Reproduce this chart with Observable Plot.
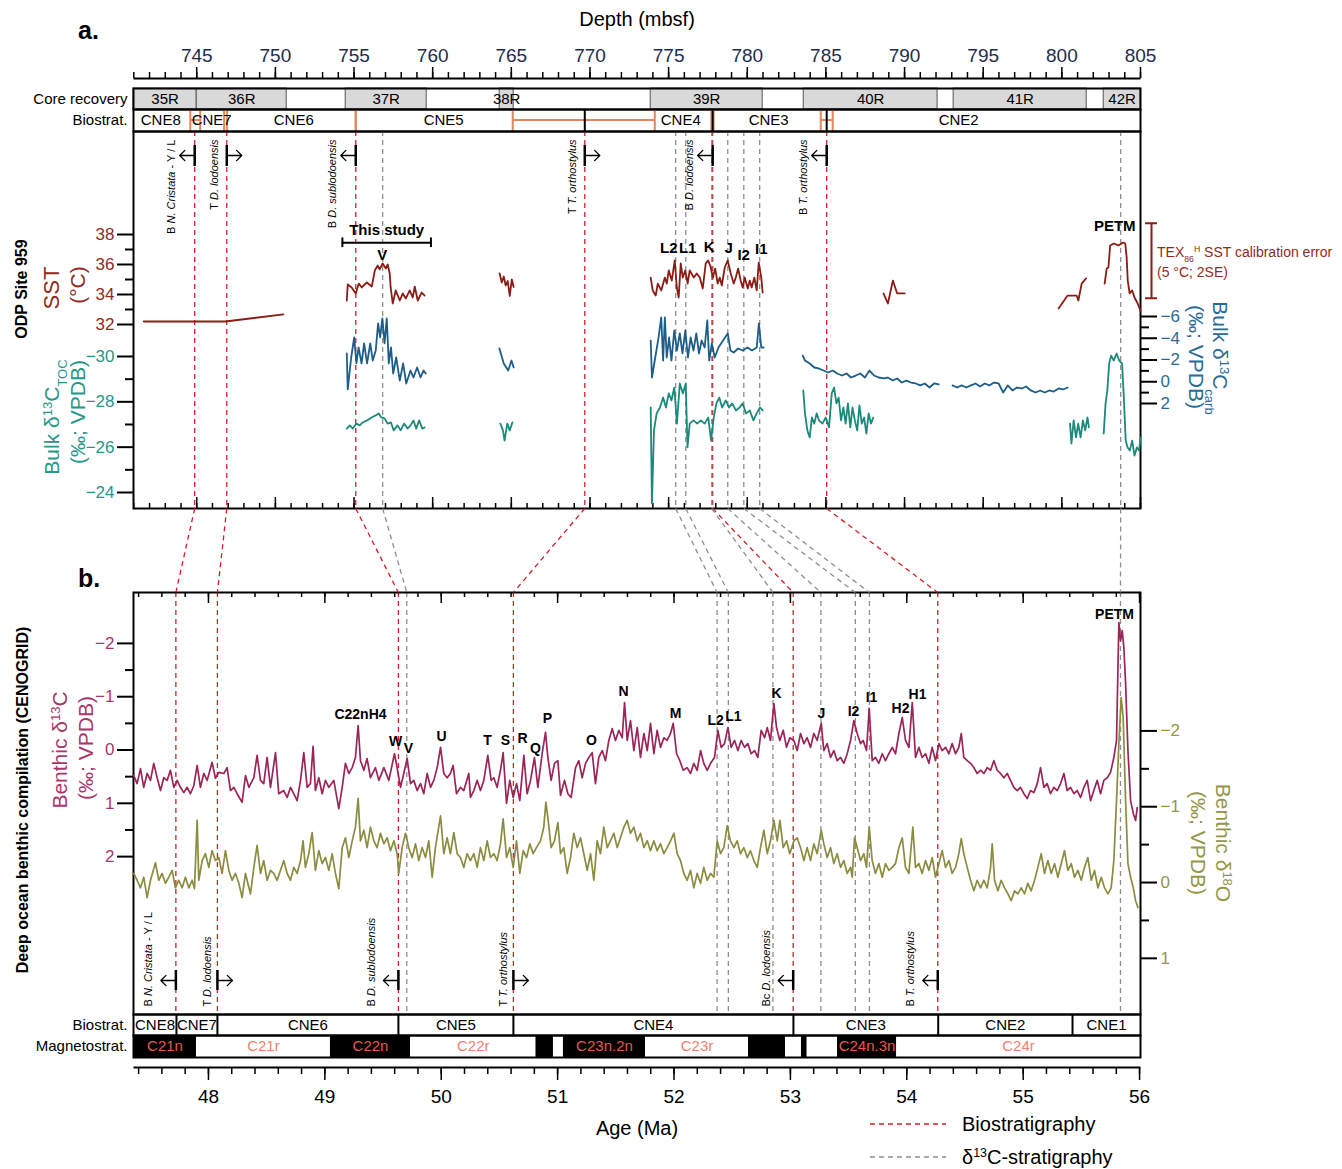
<!DOCTYPE html>
<html><head><meta charset="utf-8">
<script src="https://cdn.jsdelivr.net/npm/d3@7"></script>
<script src="https://cdn.jsdelivr.net/npm/@observablehq/plot@0.6"></script>
<style>
body{margin:0;background:#fff;}
#fig{position:relative;width:1342px;height:1169px;background:#fff;overflow:hidden;}
</style></head><body><div id="fig"></div>
<script>
// ---------------- DATA ----------------
// axis ticks
const depthTicks = [745,750,755,760,765,770,775,780,785,790,795,800,805];
const depthMinor = d3.range(741, 806, 1);
const ageTicks = [48,49,50,51,52,53,54,55,56];
const ageMinor = d3.range(47.4, 56.01, 0.2);
const sstTicks = [32,34,36,38], sstMinor = [33,35,37];
const tocTicks = [-30,-28,-26,-24], tocMinor = [-29,-27,-25];
const carbTicks = [-6,-4,-2,0,2], carbMinor = [-5,-3,-1,1];
const b13Ticks = [-2,-1,0,1,2], b13Minor = [-1.5,-0.5,0.5,1.5];
const b18Ticks = [-2,-1,0,1], b18Minor = [-1.5,-0.5,0.5];

// Core recovery, ODP Site 959 (mbsf)
const cores = [
 {name:"35R", top:740.98, bottom:745.0},
 {name:"36R", top:745.0, bottom:750.72},
 {name:"37R", top:754.47, bottom:759.62},
 {name:"38R", top:764.26, bottom:765.15},
 {name:"39R", top:773.86, bottom:780.98},
 {name:"40R", top:783.59, bottom:792.1},
 {name:"41R", top:793.12, bottom:801.58},
 {name:"42R", top:802.66, bottom:805.0}
];
// Nannofossil zones at Site 959
const zoneLabelsA = [
 {name:"CNE8", depth:742.71},{name:"CNE7", depth:745.95},{name:"CNE6", depth:751.17},
 {name:"CNE5", depth:760.7},{name:"CNE4", depth:775.77},{name:"CNE3", depth:781.36},{name:"CNE2", depth:793.44}
];
const zoneBoundsA = [
 {depth:744.87, lo:744.59, hi:745.22, solid:false},
 {depth:746.85, lo:746.74, hi:746.93, solid:false},
 {depth:755.11, lo:755.11, hi:755.11, solid:false},
 {depth:769.67, lo:765.09, hi:774.12, solid:true},
 {depth:777.8, lo:777.72, hi:777.86, solid:true},
 {depth:785.05, lo:784.67, hi:785.43, solid:true}
];
// Zones in the CENOGRID age model (Ma)
const zonesB = [
 {name:"CNE8", start:47.356, end:47.725},{name:"CNE7", start:47.725, end:48.077},
 {name:"CNE6", start:48.077, end:49.632},{name:"CNE5", start:49.632, end:50.62},
 {name:"CNE4", start:50.62, end:53.026},{name:"CNE3", start:53.026, end:54.27},
 {name:"CNE2", start:54.27, end:55.424},{name:"CNE1", start:55.424, end:56.008}
];
const chrons = [
 {name:"C21n", start:47.356, end:47.897, normal:true},
 {name:"C21r", start:47.897, end:49.048, normal:false},
 {name:"C22n", start:49.048, end:49.736, normal:true},
 {name:"C22r", start:49.736, end:50.814, normal:false},
 {name:"", start:50.814, end:50.964, normal:true},
 {name:"", start:50.964, end:51.05, normal:false},
 {name:"C23n.2n", start:51.05, end:51.755, normal:true},
 {name:"C23r", start:51.755, end:52.64, normal:false},
 {name:"", start:52.64, end:52.958, normal:true},
 {name:"", start:52.958, end:53.095, normal:false},
 {name:"", start:53.095, end:53.143, normal:true},
 {name:"", start:53.143, end:53.405, normal:false},
 {name:"C24n.3n", start:53.405, end:53.912, normal:true},
 {name:"C24r", start:53.912, end:56.008, normal:false}
];
// Tie points depth <-> age
const bioTies = [
 {depth:744.87, age:47.72},{depth:746.91, age:48.077},{depth:755.11, age:49.632},
 {depth:769.67, age:50.62},{depth:777.8, age:53.024},{depth:785.05, age:54.266}
];
const chemoTies = [
 {name:"V", depth:756.82, age:49.704},{name:"L2", depth:775.45, age:52.37},
 {name:"L1", depth:776.09, age:52.467},{name:"K", depth:777.74, age:52.85},
 {name:"J", depth:778.76, age:53.262},{name:"I2", depth:779.78, age:53.558},
 {name:"I1", depth:780.79, age:53.679},{name:"PETM", depth:803.74, age:55.836}
];
// Biostratigraphic datums
const datumsA = [
 {depth:744.87, rank:"B", taxon:"N. Cristata", note:" - Y / L", dir:-1},
 {depth:746.91, rank:"T", taxon:"D. lodoensis", note:"", dir:1},
 {depth:755.11, rank:"B", taxon:"D. sublodoensis", note:"", dir:-1},
 {depth:769.67, rank:"T", taxon:"T. orthostylus", note:"", dir:1},
 {depth:777.8, rank:"B", taxon:"D. lodoensis", note:"", dir:-1},
 {depth:785.05, rank:"B", taxon:"T. orthostylus", note:"", dir:-1}
];
const datumsB = [
 {age:47.72, rank:"B", taxon:"N. Cristata", note:" - Y / L", dir:-1},
 {age:48.077, rank:"T", taxon:"D. lodoensis", note:"", dir:1},
 {age:49.632, rank:"B", taxon:"D. sublodoensis", note:"", dir:-1},
 {age:50.62, rank:"T", taxon:"T. orthostylus", note:"", dir:1},
 {age:53.024, rank:"Bc", taxon:"D. lodoensis", note:"", dir:-1},
 {age:54.266, rank:"B", taxon:"T. orthostylus", note:"", dir:-1}
];
// Event labels
const eventsA = [
 {label:"V", depth:756.8, sst:36.6},{label:"L2", depth:775.01, sst:37.07},
 {label:"L1", depth:776.21, sst:37.07},{label:"K", depth:777.58, sst:37.13},
 {label:"J", depth:778.82, sst:37.07},{label:"I2", depth:779.77, sst:36.6},
 {label:"I1", depth:780.89, sst:37.0},{label:"PETM", depth:803.36, sst:38.53}
];
const eventsB = [
 {label:"C22nH4", age:49.306, d13c:-0.67},{label:"W", age:49.607, d13c:-0.15},
 {label:"V", age:49.718, d13c:-0.03},{label:"U", age:50.002, d13c:-0.25},
 {label:"T", age:50.397, d13c:-0.18},{label:"S", age:50.552, d13c:-0.18},
 {label:"R", age:50.698, d13c:-0.22},{label:"Q", age:50.81, d13c:-0.03},
 {label:"P", age:50.913, d13c:-0.59},{label:"O", age:51.291, d13c:-0.18},
 {label:"N", age:51.566, d13c:-1.10},{label:"M", age:52.013, d13c:-0.68},
 {label:"L2", age:52.357, d13c:-0.55},{label:"L1", age:52.511, d13c:-0.63},
 {label:"K", age:52.881, d13c:-1.06},{label:"J", age:53.267, d13c:-0.68},
 {label:"I2", age:53.542, d13c:-0.72},{label:"I1", age:53.697, d13c:-0.98},
 {label:"H2", age:53.946, d13c:-0.78},{label:"H1", age:54.092, d13c:-1.04},
 {label:"PETM", age:55.785, d13c:-2.54}
];
const thisStudy = [754.26, 759.89];
const tex86Error = {depth:805.7, low:33.75, high:38.75};

// TEX86H SST (deg C) vs depth, per core
const sst36R = [[741.63,32.2],[746.82,32.2],[750.51,32.67]];
const sst37R = [[754.54,33.6],[754.6,34.67],[754.85,34.47],[755.11,34.07],[755.3,34.73],[755.49,34.47],[755.81,34.8],[756.13,34.53],[756.32,35.6],[756.51,35.93],[756.63,35.67],[756.82,36.07],[757.02,35.73],[757.14,36.0],[757.27,35.4],[757.33,34.47],[757.46,33.4],[757.65,34.27],[757.91,33.6],[758.1,34.07],[758.29,33.73],[758.54,34.27],[758.73,33.8],[758.86,34.53],[759.05,33.6],[759.3,34.13],[759.49,33.93]];
const sst38R = [[764.26,35.4],[764.39,34.8],[764.52,35.2],[764.64,34.6],[764.77,34.9],[764.9,33.9],[765.03,35.0],[765.15,34.5]];
const sst39R = [[773.86,35.13],[773.99,34.27],[774.18,33.93],[774.31,34.73],[774.53,34.27],[774.76,35.13],[774.88,34.73],[775.01,35.6],[775.2,34.93],[775.39,36.27],[775.52,34.47],[775.64,33.8],[775.77,36.07],[775.9,35.13],[776.06,35.6],[776.21,34.73],[776.34,35.6],[776.6,35.13],[776.79,35.4],[776.98,35.13],[777.17,34.4],[777.36,36.07],[777.52,36.27],[777.68,35.8],[777.81,35.13],[777.96,35.73],[778.12,34.73],[778.25,35.13],[778.38,34.6],[778.57,35.8],[778.76,36.27],[778.95,35.4],[779.14,34.73],[779.27,35.13],[779.42,35.73],[779.58,34.93],[779.71,34.47],[779.84,35.13],[780.03,34.4],[780.16,34.93],[780.28,34.47],[780.45,35.13],[780.6,34.27],[780.73,36.13],[780.89,35.13],[780.98,34.13]];
const sst40R = [[788.66,34.07],[788.94,33.4],[789.26,34.93],[789.53,34.07],[790.01,34.07]];
const sst41R = [[799.79,33.07],[800.23,33.73],[800.37,33.93],[800.94,33.93],[801.05,33.6],[801.26,34.73],[801.54,35.07]];
const sst42R = [[802.72,34.73],[802.85,35.73],[802.96,35.8],[803.07,37.27],[803.3,37.4],[803.6,37.27],[803.89,37.47],[804.03,37.4],[804.12,36.47],[804.19,34.93],[804.31,34.07],[804.47,34.27],[804.62,33.8],[804.82,33.4],[805.0,32.93]];

// Bulk d13C carb (permil VPDB) vs depth
const carb37R = [[754.54,-2.6],[754.6,0.7],[754.82,-2.23],[755.01,-4.07],[755.15,-1.68],[755.29,-3.15],[755.48,-1.68],[755.64,-3.52],[755.83,-1.68],[756.03,-3.52],[756.19,-1.95],[756.38,-2.87],[756.53,-5.36],[756.66,-4.07],[756.8,-5.82],[756.94,-3.52],[757.08,-5.82],[757.21,-1.68],[757.35,-3.15],[757.49,-0.76],[757.68,-2.23],[757.91,-0.11],[758.12,-1.68],[758.32,0.16],[758.59,-1.03],[758.78,-0.39],[759.01,-1.31],[759.23,-0.39],[759.42,-1.03],[759.56,-0.76]];
const carb38R = [[764.24,-3.06],[764.52,-1.68],[764.8,-1.03],[765.01,-1.95],[765.15,-1.31]];
const carb39R = [[773.86,-3.79],[773.94,-0.39],[774.15,-2.23],[774.36,-4.07],[774.53,-5.91],[774.65,-1.95],[774.76,-5.91],[774.88,-2.23],[775.03,-4.07],[775.18,-1.95],[775.36,-4.71],[775.53,-2.87],[775.71,-4.44],[775.88,-2.6],[776.06,-4.71],[776.23,-2.23],[776.4,-4.07],[776.58,-2.87],[776.76,-4.44],[776.93,-2.6],[777.1,-3.79],[777.29,-3.15],[777.46,-5.63],[777.58,-1.95],[777.75,-3.52],[777.93,-2.23],[778.17,-3.15],[778.46,-3.79],[778.76,-4.44],[778.93,-2.87],[779.14,-2.69],[779.42,-3.06],[779.71,-2.87],[780.01,-3.15],[780.3,-2.87],[780.6,-3.15],[780.74,-5.36],[780.89,-3.15],[781.04,-3.15]];
const carb40R = [[783.53,-2.41],[783.67,-1.95],[783.97,-1.68],[784.26,-1.31],[784.54,-1.22],[784.85,-1.03],[785.14,-0.85],[785.43,-1.03],[785.72,-0.76],[786.02,-0.57],[786.31,-0.76],[786.6,-0.39],[786.9,-0.57],[787.19,-0.76],[787.48,-0.39],[787.77,-1.03],[788.07,-0.57],[788.36,-0.39],[788.66,-0.3],[788.93,-0.39],[789.25,-0.11],[789.53,-0.3],[789.82,0.07],[790.12,-0.11],[790.41,0.07],[790.71,0.16],[791.0,0.34],[791.28,0.16],[791.59,0.53],[791.88,0.16],[792.17,0.25]];
const carb41R = [[793.05,0.34],[793.34,0.53],[793.63,0.34],[793.93,0.53],[794.22,0.34],[794.51,0.16],[794.8,0.44],[795.1,0.16],[795.39,0.34],[795.69,0.07],[795.98,0.16],[796.27,0.99],[796.56,0.34],[796.86,0.8],[797.15,0.53],[797.45,0.62],[797.73,0.44],[798.02,0.8],[798.33,0.99],[798.62,0.8],[798.91,0.99],[799.2,0.8],[799.48,0.9],[799.79,0.62],[800.08,0.71],[800.37,0.53]];

// Bulk d13C TOC (permil VPDB) vs depth
const toc37R = [[754.54,-26.82],[754.73,-26.96],[754.92,-26.82],[755.15,-27.04],[755.36,-26.96],[755.55,-27.09],[755.83,-27.18],[756.11,-27.31],[756.38,-27.4],[756.57,-27.49],[756.74,-27.31],[756.94,-27.27],[757.13,-27.04],[757.35,-27.09],[757.52,-26.74],[757.77,-26.96],[757.96,-26.74],[758.18,-27.04],[758.4,-26.82],[758.59,-26.96],[758.78,-27.18],[758.95,-26.82],[759.14,-27.18],[759.34,-26.82],[759.49,-26.87]];
const toc38R = [[764.3,-27.04],[764.47,-26.74],[764.57,-26.29],[764.74,-27.04],[764.9,-26.74],[765.07,-27.09]];
const toc39R = [[773.86,-27.75],[773.94,-23.52],[774.0,-25.0],[774.07,-26.74],[774.24,-27.49],[774.45,-27.75],[774.65,-28.19],[774.83,-27.75],[775.01,-28.37],[775.18,-28.06],[775.36,-28.63],[775.53,-27.04],[775.71,-28.81],[775.91,-28.37],[776.09,-28.81],[776.2,-25.99],[776.34,-27.04],[776.58,-27.18],[776.82,-27.04],[777.05,-27.18],[777.29,-27.04],[777.52,-27.31],[777.7,-26.29],[777.87,-27.31],[778.04,-27.93],[778.22,-28.19],[778.4,-27.75],[778.63,-28.06],[778.84,-27.75],[779.04,-27.93],[779.28,-27.62],[779.51,-27.75],[779.71,-27.93],[779.92,-27.49],[780.16,-27.62],[780.39,-27.18],[780.6,-27.49],[780.81,-27.75],[780.98,-27.62]];
const toc40R = [[783.56,-28.5],[783.67,-27.49],[783.82,-26.74],[783.97,-26.43],[784.11,-27.31],[784.26,-27.04],[784.41,-27.49],[784.56,-27.18],[784.78,-27.04],[784.99,-27.31],[785.2,-26.87],[785.37,-28.37],[785.52,-28.63],[785.67,-27.93],[785.81,-28.19],[785.96,-27.18],[786.11,-27.75],[786.25,-27.04],[786.4,-27.93],[786.55,-26.87],[786.69,-27.75],[786.84,-27.18],[786.99,-26.74],[787.13,-27.84],[787.28,-27.04],[787.43,-27.31],[787.57,-26.6],[787.72,-27.49],[787.86,-27.04],[788.01,-27.31]];
const toc41R = [[800.52,-27.04],[800.61,-26.16],[800.75,-27.18],[800.9,-26.43],[801.04,-27.04],[801.19,-26.43],[801.34,-27.18],[801.48,-26.74],[801.63,-27.31],[801.72,-26.87]];
const toc42R = [[802.66,-26.6],[802.78,-27.93],[802.89,-28.5],[803.01,-29.69],[803.13,-30.04],[803.3,-29.82],[803.48,-30.13],[803.65,-29.82],[803.83,-29.69],[803.94,-28.19],[804.06,-26.29],[804.18,-25.99],[804.32,-25.85],[804.47,-26.29],[804.62,-25.63],[804.77,-25.99],[804.91,-25.85],[805.0,-26.43]];

// CENOGRID benthic d13C [age Ma, permil]
const cenogridD13C = [[47.358,0.48],[47.387,0.63],[47.416,0.35],[47.444,0.70],[47.473,0.44],[47.502,0.57],[47.530,0.25],[47.559,0.52],[47.588,0.76],[47.616,0.52],[47.645,0.57],[47.673,0.38],[47.702,0.70],[47.731,0.57],[47.759,0.70],[47.788,0.80],[47.817,0.70],[47.845,0.82],[47.874,0.67],[47.903,0.29],[47.931,0.70],[47.960,0.44],[47.989,0.57],[48.031,0.23],[48.060,0.53],[48.089,0.42],[48.132,0.44],[48.160,0.33],[48.189,0.76],[48.218,0.70],[48.246,0.82],[48.289,0.98],[48.318,0.48],[48.347,0.70],[48.390,0.52],[48.418,0.10],[48.447,0.57],[48.475,0.63],[48.504,0.14],[48.533,0.70],[48.576,0.05],[48.604,0.82],[48.647,0.76],[48.676,0.89],[48.705,0.70],[48.733,0.82],[48.762,0.95],[48.791,0.57],[48.819,0.05],[48.848,0.70],[48.876,0.63],[48.899,-0.07],[48.919,0.76],[48.948,0.52],[48.977,0.82],[49.005,0.57],[49.034,0.70],[49.077,0.57],[49.120,1.10],[49.149,0.70],[49.177,0.25],[49.206,0.44],[49.235,0.33],[49.263,0.14],[49.286,-0.46],[49.306,0.20],[49.335,0.38],[49.363,0.16],[49.392,0.52],[49.435,0.33],[49.464,0.57],[49.507,0.33],[49.550,0.57],[49.598,0.07],[49.621,0.33],[49.650,0.70],[49.678,0.44],[49.707,0.16],[49.736,0.63],[49.764,0.57],[49.793,0.76],[49.822,0.63],[49.850,0.82],[49.879,0.44],[49.908,0.70],[49.936,0.57],[49.965,0.33],[49.994,-0.05],[50.022,0.44],[50.051,0.52],[50.079,0.44],[50.102,0.29],[50.131,0.82],[50.165,0.70],[50.194,0.76],[50.237,0.44],
[50.251,0.89],[50.280,0.76],[50.309,0.57],[50.337,0.76],[50.366,0.57],[50.400,0.10],[50.429,0.57],[50.452,0.52],[50.480,0.70],[50.509,0.38],[50.532,0.05],[50.561,1.00],[50.589,0.57],[50.618,0.89],[50.647,0.63],[50.675,0.95],[50.710,0.10],[50.738,0.82],[50.767,0.57],[50.801,0.14],[50.830,0.70],[50.867,0.07],[50.896,-0.33],[50.916,0.14],[50.944,0.57],[50.973,0.25],[51.002,0.20],[51.025,0.85],[51.059,0.57],[51.088,0.82],[51.116,0.89],[51.154,0.33],[51.182,0.20],[51.211,0.52],[51.240,0.25],[51.268,0.14],[51.297,0.05],[51.325,0.63],[51.354,0.14],[51.383,0.01],[51.411,0.20],[51.440,-0.18],[51.469,-0.40],[51.497,-0.18],[51.526,-0.37],[51.555,-0.23],[51.575,-0.89],[51.598,-0.18],[51.626,-0.55],[51.655,0.01],[51.684,-0.42],[51.712,0.14],[51.741,-0.31],[51.770,0.01],[51.798,-0.50],[51.827,0.07],[51.855,-0.37],[51.884,-0.05],[51.913,-0.23],[51.941,-0.18],[51.970,-0.31],[51.993,-0.50],[52.022,0.07],[52.050,0.20],[52.079,0.38],[52.113,0.33],[52.142,0.44],[52.170,0.25],[52.199,0.38],[52.228,0.01],[52.256,0.25],[52.285,0.38],[52.314,0.25],[52.348,0.14],[52.377,-0.37],[52.405,-0.05],[52.434,-0.12],[52.463,-0.42],[52.491,-0.05],[52.520,-0.18],[52.549,0.01],[52.577,-0.18],[52.606,-0.05],[52.634,-0.12],[52.663,0.07],[52.692,0.01],[52.720,0.14],[52.749,-0.37],[52.778,-0.23],[52.801,-0.42],[52.829,-0.18],[52.858,-0.87],[52.881,-0.42],[52.909,-0.18],[52.938,-0.37],[52.967,-0.05],[52.995,-0.23],
[53.030,-0.18],[53.058,0.01],[53.087,-0.31],[53.116,-0.12],[53.144,-0.23],[53.173,-0.05],[53.201,-0.31],[53.230,-0.18],[53.265,-0.50],[53.287,0.01],[53.316,-0.12],[53.345,0.14],[53.373,0.01],[53.402,0.20],[53.431,0.14],[53.459,0.25],[53.488,0.07],[53.517,-0.18],[53.545,-0.55],[53.574,-0.31],[53.603,-0.12],[53.625,-0.18],[53.654,0.01],[53.677,-0.78],[53.703,0.20],[53.731,0.14],[53.760,0.25],[53.789,0.07],[53.817,0.20],[53.846,0.07],[53.875,-0.05],[53.903,0.07],[53.932,-0.31],[53.961,-0.61],[53.989,-0.18],[54.018,-0.05],[54.047,-0.89],[54.075,0.14],[54.104,-0.05],[54.132,0.14],[54.161,0.07],[54.190,0.25],[54.218,-0.05],[54.247,0.20],[54.276,-0.12],[54.304,0.01],[54.333,-0.05],[54.362,0.07],[54.390,-0.12],[54.419,0.07],[54.447,-0.05],[54.468,-0.31],[54.490,0.14],[54.519,0.20],[54.548,0.25],[54.576,0.33],[54.605,0.44],[54.634,0.38],[54.662,0.44],[54.691,0.33],[54.720,0.38],[54.748,0.20],[54.777,0.38],[54.805,0.44],[54.834,0.52],[54.863,0.44],[54.891,0.57],[54.920,0.70],[54.949,0.76],[54.977,0.70],[55.006,0.82],[55.035,0.91],[55.063,0.76],[55.092,0.80],[55.121,0.63],[55.149,0.33],[55.178,0.70],[55.206,0.63],[55.235,0.82],[55.264,0.70],[55.292,0.76],[55.321,0.63],[55.350,0.44],[55.378,0.76],[55.407,0.70],[55.436,0.82],[55.464,0.76],[55.493,0.89],[55.522,0.70],[55.550,0.57],[55.579,0.95],[55.607,0.76],[55.636,0.57],[55.665,0.82],[55.693,0.57],[55.722,0.52],[55.751,0.42],[55.779,0.14],[55.802,-0.18],[55.822,-2.39],[55.837,-2.05],[55.851,-2.24],[55.865,-1.92],[55.880,-1.25],[55.900,0.01],[55.923,0.95],[55.946,1.19],[55.966,1.32],[55.980,1.08]];

// CENOGRID benthic d18O [age Ma, permil]
const cenogridD18O = [[47.358,-0.12],[47.387,-0.03],[47.416,0.07],[47.444,-0.07],[47.473,0.20],[47.502,-0.03],[47.545,-0.26],[47.573,-0.03],[47.602,-0.12],[47.630,0.01],[47.659,-0.07],[47.688,-0.16],[47.716,0.07],[47.745,-0.03],[47.774,0.07],[47.802,-0.07],[47.831,0.07],[47.860,-0.03],[47.880,0.08],[47.903,-0.82],[47.917,-0.03],[47.946,-0.29],[47.974,-0.38],[48.003,-0.20],[48.031,-0.42],[48.060,-0.29],[48.089,-0.33],[48.117,-0.12],[48.146,-0.42],[48.175,-0.16],[48.203,-0.03],[48.232,-0.12],[48.261,0.01],[48.289,0.20],[48.318,-0.12],[48.361,0.15],[48.390,-0.20],[48.418,-0.49],[48.447,-0.12],[48.475,-0.29],[48.504,-0.03],[48.533,-0.16],[48.561,-0.12],[48.590,-0.03],[48.619,-0.16],[48.647,-0.29],[48.676,-0.12],[48.705,-0.03],[48.733,-0.20],[48.762,-0.12],[48.791,-0.29],[48.813,-0.55],[48.833,-0.20],[48.862,-0.38],[48.891,-0.66],[48.919,-0.16],[48.948,-0.42],[48.977,-0.25],[49.005,-0.33],[49.034,-0.16],[49.063,-0.38],[49.091,-0.12],[49.120,0.08],[49.149,-0.46],[49.177,-0.59],[49.206,-0.33],[49.235,-0.55],[49.263,-0.73],[49.286,-1.11],[49.306,-0.55],[49.335,-0.69],[49.363,-0.46],[49.392,-0.73],[49.421,-0.55],[49.449,-0.46],[49.478,-0.65],[49.507,-0.51],[49.535,-0.59],[49.564,-0.42],[49.593,-0.55],[49.621,-0.38],[49.635,-0.12],[49.664,-0.46],[49.693,-0.65],[49.721,-0.46],[49.750,-0.33],[49.779,-0.51],[49.807,-0.29],[49.836,-0.46],[49.865,-0.33],[49.893,-0.55],[49.922,-0.07],[49.950,-0.46],[49.994,-0.88],[50.022,-0.38],[50.051,-0.59],[50.079,-0.38],[50.108,-0.66],[50.137,-0.38],[50.165,-0.33],[50.194,-0.20],[50.222,-0.38],[50.251,-0.29],
[50.280,-0.38],[50.309,-0.20],[50.337,-0.46],[50.366,-0.29],[50.395,-0.55],[50.423,-0.33],[50.452,-0.38],[50.480,-0.29],[50.509,-0.51],[50.532,-0.84],[50.561,-0.33],[50.589,-0.46],[50.618,-0.20],[50.647,-0.55],[50.675,-0.12],[50.704,-0.42],[50.733,-0.33],[50.761,-0.51],[50.790,-0.38],[50.818,-0.46],[50.853,-0.55],[50.881,-0.73],[50.899,-1.06],[50.916,-0.86],[50.944,-0.46],[50.973,-0.55],[51.002,-0.79],[51.025,-0.38],[51.053,-0.46],[51.082,-0.12],[51.111,-0.33],[51.139,-0.65],[51.168,-0.46],[51.197,-0.59],[51.225,-0.38],[51.254,-0.16],[51.283,-0.38],[51.311,-0.03],[51.340,-0.55],[51.368,-0.38],[51.397,-0.73],[51.426,-0.46],[51.454,-0.55],[51.483,-0.65],[51.512,-0.46],[51.540,-0.59],[51.569,-0.73],[51.598,-0.82],[51.626,-0.65],[51.655,-0.73],[51.684,-0.55],[51.712,-0.65],[51.741,-0.46],[51.770,-0.55],[51.798,-0.42],[51.827,-0.55],[51.855,-0.42],[51.884,-0.51],[51.913,-0.38],[51.941,-0.46],[51.970,-0.55],[51.999,-0.65],[52.027,-0.38],[52.056,-0.29],[52.084,-0.12],[52.113,-0.03],[52.142,-0.16],[52.170,0.07],[52.199,-0.12],[52.228,0.01],[52.256,-0.20],[52.285,-0.03],[52.314,-0.12],[52.342,-0.07],[52.371,-0.55],[52.400,-0.38],[52.428,-0.46],[52.457,-0.75],[52.485,-0.55],[52.514,-0.46],[52.543,-0.55],[52.571,-0.38],[52.600,-0.46],[52.629,-0.33],[52.657,-0.42],[52.686,-0.29],[52.715,-0.20],[52.743,-0.46],[52.772,-0.69],[52.801,-0.38],[52.829,-0.55],[52.858,-0.82],[52.887,-0.55],[52.910,-0.82],[52.938,-0.46],[52.967,-0.55],[52.995,-0.38],
[53.030,-0.55],[53.058,-0.59],[53.087,-0.46],[53.116,-0.29],[53.144,-0.46],[53.173,-0.29],[53.201,-0.51],[53.230,-0.38],[53.265,-0.69],[53.287,-0.51],[53.316,-0.33],[53.345,-0.46],[53.373,-0.25],[53.402,-0.38],[53.431,-0.20],[53.459,-0.29],[53.488,-0.12],[53.517,-0.20],[53.531,-0.07],[53.551,-0.59],[53.574,-0.46],[53.603,-0.29],[53.631,-0.38],[53.654,-0.20],[53.677,-0.73],[53.703,-0.29],[53.731,-0.12],[53.760,-0.25],[53.789,-0.07],[53.817,-0.25],[53.846,-0.16],[53.875,-0.20],[53.903,-0.25],[53.932,-0.46],[53.961,-0.59],[53.989,-0.20],[54.018,-0.12],[54.052,-0.73],[54.075,-0.20],[54.104,-0.25],[54.132,-0.12],[54.161,-0.29],[54.190,-0.16],[54.218,-0.33],[54.247,-0.07],[54.276,-0.25],[54.304,-0.42],[54.333,-0.20],[54.362,-0.29],[54.390,-0.12],[54.419,-0.20],[54.447,-0.38],[54.468,-0.58],[54.490,-0.38],[54.519,-0.20],[54.548,-0.03],[54.576,0.11],[54.605,-0.03],[54.634,0.07],[54.662,-0.03],[54.691,0.07],[54.720,-0.20],[54.734,-0.51],[54.754,-0.03],[54.783,0.11],[54.811,-0.03],[54.840,0.07],[54.869,0.15],[54.897,0.24],[54.926,0.11],[54.954,0.15],[54.983,0.07],[55.012,0.15],[55.040,0.01],[55.069,0.11],[55.098,-0.03],[55.126,-0.20],[55.155,-0.38],[55.183,-0.12],[55.212,-0.29],[55.241,-0.12],[55.270,-0.25],[55.298,-0.07],[55.327,-0.25],[55.355,-0.42],[55.384,-0.16],[55.413,-0.25],[55.441,-0.07],[55.470,-0.16],[55.499,-0.03],[55.527,-0.20],[55.556,-0.33],[55.585,-0.03],[55.613,-0.16],[55.642,0.07],[55.671,-0.07],[55.699,0.07],[55.728,0.15],[55.756,0.07],[55.779,-0.29],[55.802,-1.08],[55.822,-1.83],[55.842,-2.44],[55.859,-2.18],[55.880,-1.08],[55.900,-0.25],[55.923,-0.07],[55.946,0.07],[55.966,0.24],[55.986,0.33]];

// ---------------- STYLE ----------------
const FONT = '"Liberation Sans", Arial, Helvetica, sans-serif';
const RED = "#d21f26", GRAY = "#8e8e8e", ORANGE = "#e2875c";
const C_SST = "#8a1c16", C_TOC = "#1c8a7a", C_CARB = "#1d5e88", C_B13 = "#9b2459", C_B18 = "#8a8c40";
const T_SST = "#922a22", T_TOC = "#27978a", T_CARB = "#2a6b96", T_B13 = "#a8386b", T_B18 = "#949648";
const W = 1342, ML = 133, MR = 202;
const fig = document.getElementById("fig");
const xA = {domain: [740.98, 805.0]};
const xB = {domain: [47.356, 56.008]};
const DASH = "5,4";
const fmt = d => (d < 0 ? "\u2212" : "") + Math.abs(d);

function mk(opts, top) {
  const svg = Plot.plot(Object.assign({width: W, marginLeft: ML, marginRight: MR,
    style: {fontFamily: FONT, background: "transparent", overflow: "visible"}}, opts));
  svg.style.position = "absolute"; svg.style.left = "0px"; svg.style.top = top + "px";
  svg.style.maxWidth = "none";
  fig.appendChild(svg);
  return svg;
}
const rowsOf = (segs, key) => segs.flatMap((s, k) => s.map(([a, v]) => ({[key]: a, value: v, seg: k})));
const sstRows = rowsOf([sst36R, sst37R, sst38R, sst39R, sst40R, sst41R, sst42R], "depth");
const carbRows = rowsOf([carb37R, carb38R, carb39R, carb40R, carb41R], "depth");
const tocRows = rowsOf([toc37R, toc38R, toc39R, toc40R, toc41R, toc42R], "depth");
const datumLabel = d => d.rank + " " + d.taxon + d.note;
const blank = () => "";

// ---------------- PANEL A: header ----------------
mk({height: 79, marginTop: 77, marginBottom: 0, x: xA, marks: [
  Plot.frame({fill: "black", stroke: "none"}),
  Plot.axisX(depthMinor, {anchor: "top", tickSize: 6, tickFormat: blank, strokeWidth: 1.5, label: null}),
  Plot.axisX(depthTicks, {anchor: "top", tickSize: 11, tickPadding: 5, tickFormat: fmt, fontSize: 19, strokeWidth: 1.5, stroke: "black", fill: "#1f2b4e", label: null}),
  Plot.text(["Depth (mbsf)"], {text: d => d, frameAnchor: "top", lineAnchor: "middle", dy: -58, fontSize: 20})
]}, 0);

mk({height: 21, marginTop: 0, marginBottom: 0, x: {...xA, axis: null}, marks: [
  Plot.rect(cores, {x1: "top", x2: "bottom", fill: "#d9d9d9", stroke: "#555", strokeWidth: 1}),
  Plot.text(cores, {x: d => (d.top + d.bottom) / 2, text: "name", fontSize: 15}),
  Plot.frame({stroke: "black", strokeWidth: 2}),
  Plot.text(["Core recovery"], {text: d => d, frameAnchor: "left", dx: -6, textAnchor: "end", fontSize: 15})
]}, 88);

mk({height: 22, marginTop: 0, marginBottom: 0, x: {...xA, axis: null}, marks: [
  Plot.rect(zoneBoundsA.filter(d => d.hi - d.lo > 0.3), {x1: "lo", x2: "hi", insetTop: 10, insetBottom: 10, fill: ORANGE}),
  Plot.ruleX(zoneBoundsA.flatMap(d => [d.lo, d.hi]), {stroke: ORANGE, strokeWidth: 2}),
  Plot.ruleX(zoneBoundsA.filter(d => d.solid), {x: "depth", stroke: "black", strokeWidth: 2}),
  Plot.text(zoneLabelsA, {x: "depth", text: "name", fontSize: 15}),
  Plot.frame({stroke: "black", strokeWidth: 2}),
  Plot.text(["Biostrat."], {text: d => d, frameAnchor: "left", dx: -6, textAnchor: "end", fontSize: 15})
]}, 109);

// ---------------- PANEL A: main ----------------
const ySST = {domain: [19.733, 44.867]};
const yTOC = {domain: [-23.294, -39.926]};
const yCarb = {domain: [11.655, -23.01]};
const aMain = {height: 381, marginTop: 0, marginBottom: 4};

const aBase = mk({...aMain, x: {...xA, axis: null}, y: ySST, marks: [
  Plot.ruleX(bioTies, {x: "depth", stroke: RED, strokeWidth: 1.3, strokeDasharray: DASH}),
  Plot.ruleX(chemoTies, {x: "depth", stroke: GRAY, strokeWidth: 1.3, strokeDasharray: DASH}),
  Plot.frame({stroke: "black", strokeWidth: 2}),
  Plot.tickX(depthMinor, {insetTop: 372, strokeWidth: 1.5}),
  Plot.tickX(depthTicks, {insetTop: 366, strokeWidth: 1.5}),
  Plot.axisY(sstMinor, {anchor: "left", tickSize: 8, tickFormat: blank, strokeWidth: 2, label: null}),
  Plot.axisY(sstTicks, {anchor: "left", tickSize: 16, tickPadding: 3, tickFormat: fmt, fontSize: 17, strokeWidth: 2, stroke: "black", fill: T_SST, label: null}),
  Plot.line(sstRows, {x: "depth", y: "value", z: "seg", stroke: C_SST, strokeWidth: 1.8}),
  Plot.ruleY([37.45], {x1: thisStudy[0], x2: thisStudy[1], strokeWidth: 2}),
  Plot.ruleX(thisStudy, {y1: 37.13, y2: 37.77, strokeWidth: 2}),
  Plot.text(["This study"], {text: d => d, x: (thisStudy[0] + thisStudy[1]) / 2, y: 38.27, fontWeight: "bold", fontSize: 15}),
  Plot.text(eventsA, {x: "depth", y: "sst", text: "label", fontWeight: "bold", fontSize: 15}),
  Plot.tickX(datumsA, {x: "depth", insetTop: 14, insetBottom: 342, strokeWidth: 2.5}),
  Plot.vector(datumsA, {x: "depth", frameAnchor: "top", dy: 24, length: 15, rotate: d => d.dir > 0 ? 90 : -90, anchor: "start", shape: "arrow", r: 6, stroke: "black", strokeWidth: 1.3}),
  Plot.text(datumsA.filter(d => d.dir < 0), {x: "depth", text: datumLabel, rotate: -90, frameAnchor: "top", lineAnchor: "middle", dy: 8, dx: -23, textAnchor: "end", fontSize: 11}),
  Plot.text(datumsA.filter(d => d.dir > 0), {x: "depth", text: datumLabel, rotate: -90, frameAnchor: "top", lineAnchor: "middle", dy: 8, dx: -12, textAnchor: "end", fontSize: 11}),
  Plot.ruleX([tex86Error], {x: "depth", y1: "low", y2: "high", stroke: C_SST, strokeWidth: 2}),
  Plot.ruleY([tex86Error.low, tex86Error.high], {x1: tex86Error.depth - 0.38, x2: tex86Error.depth + 0.38, stroke: C_SST, strokeWidth: 2})
]}, 131);

mk({...aMain, x: {...xA, axis: null}, y: yTOC, marks: [
  Plot.axisY(tocMinor, {anchor: "left", tickSize: 8, tickFormat: blank, strokeWidth: 2, label: null}),
  Plot.axisY(tocTicks, {anchor: "left", tickSize: 16, tickPadding: 3, tickFormat: fmt, fontSize: 17, strokeWidth: 2, stroke: "black", fill: T_TOC, label: null}),
  Plot.line(tocRows, {x: "depth", y: "value", z: "seg", stroke: C_TOC, strokeWidth: 1.8})
]}, 131);

mk({...aMain, x: {...xA, axis: null}, y: yCarb, marks: [
  Plot.axisY(carbMinor, {anchor: "right", tickSize: 8, tickFormat: blank, strokeWidth: 2, label: null}),
  Plot.axisY(carbTicks, {anchor: "right", tickSize: 16, tickPadding: 4, tickFormat: fmt, fontSize: 17, strokeWidth: 2, stroke: "black", fill: T_CARB, label: null}),
  Plot.line(carbRows, {x: "depth", y: "value", z: "seg", stroke: C_CARB, strokeWidth: 1.8})
]}, 131);

// ---------------- PANEL B: main ----------------
const yB13 = {domain: [4.962, -2.955]};
const yB18 = {domain: [1.741, -3.826]};
const bMain = {height: 422, marginTop: 0, marginBottom: 0};

const bBase = mk({...bMain, x: {...xB, axis: null}, y: yB13, marks: [
  Plot.ruleX(bioTies, {x: "age", stroke: RED, strokeWidth: 1.3, strokeDasharray: DASH}),
  Plot.ruleX(chemoTies, {x: "age", stroke: GRAY, strokeWidth: 1.3, strokeDasharray: DASH}),
  Plot.frame({stroke: "black", strokeWidth: 2}),
  Plot.tickX(ageMinor, {insetBottom: 417, strokeWidth: 1.5}),
  Plot.tickX(ageTicks, {insetBottom: 411, strokeWidth: 1.5}),
  Plot.axisY(b13Minor, {anchor: "left", tickSize: 8, tickFormat: blank, strokeWidth: 2, label: null}),
  Plot.axisY(b13Ticks, {anchor: "left", tickSize: 16, tickPadding: 3, tickFormat: fmt, fontSize: 17, strokeWidth: 2, stroke: "black", fill: T_B13, label: null}),
  Plot.line(cenogridD13C, {x: d => d[0], y: d => d[1], stroke: C_B13, strokeWidth: 1.7}),
  Plot.text(eventsB, {x: "age", y: "d13c", text: "label", fontWeight: "bold", fontSize: 14}),
  Plot.tickX(datumsB, {x: "age", insetTop: 378, insetBottom: 24, strokeWidth: 2.5}),
  Plot.vector(datumsB, {x: "age", frameAnchor: "bottom", dy: -34, length: 15, rotate: d => d.dir > 0 ? 90 : -90, anchor: "start", shape: "arrow", r: 6, stroke: "black", strokeWidth: 1.3}),
  Plot.text(datumsB.filter(d => d.dir < 0), {x: "age", text: datumLabel, rotate: -90, frameAnchor: "bottom", lineAnchor: "middle", dy: -8, dx: -27, textAnchor: "start", fontSize: 11}),
  Plot.text(datumsB.filter(d => d.dir > 0), {x: "age", text: datumLabel, rotate: -90, frameAnchor: "bottom", lineAnchor: "middle", dy: -8, dx: -10, textAnchor: "start", fontSize: 11})
]}, 592);

mk({...bMain, x: {...xB, axis: null}, y: yB18, marks: [
  Plot.axisY(b18Minor, {anchor: "right", tickSize: 8, tickFormat: blank, strokeWidth: 2, label: null}),
  Plot.axisY(b18Ticks, {anchor: "right", tickSize: 16, tickPadding: 4, tickFormat: fmt, fontSize: 17, strokeWidth: 2, stroke: "black", fill: T_B18, label: null}),
  Plot.line(cenogridD18O, {x: d => d[0], y: d => d[1], stroke: C_B18, strokeWidth: 1.7})
]}, 592);

// rows under panel b
mk({height: 21, marginTop: 0, marginBottom: 0, x: {...xB, axis: null}, marks: [
  Plot.ruleX(zonesB.slice(1), {x: "start", stroke: "black", strokeWidth: 2}),
  Plot.text(zonesB, {x: d => (d.start + d.end) / 2, text: "name", fontSize: 15}),
  Plot.frame({stroke: "black", strokeWidth: 2}),
  Plot.text(["Biostrat."], {text: d => d, frameAnchor: "left", dx: -6, textAnchor: "end", fontSize: 15})
]}, 1014);

mk({height: 22, marginTop: 0, marginBottom: 0, x: {...xB, axis: null}, marks: [
  Plot.rect(chrons.filter(d => d.normal), {x1: "start", x2: "end", fill: "black"}),
  Plot.text(chrons.filter(d => d.name && d.normal), {x: d => (d.start + d.end) / 2, text: "name", fill: "#e9584c", fontSize: 15}),
  Plot.text(chrons.filter(d => d.name && !d.normal), {x: d => (d.start + d.end) / 2, text: "name", fill: "#f07f70", fontSize: 15}),
  Plot.frame({stroke: "black", strokeWidth: 2}),
  Plot.text(["Magnetostrat."], {text: d => d, frameAnchor: "left", dx: -6, textAnchor: "end", fontSize: 15})
]}, 1035);

mk({height: 75, marginTop: 0, marginBottom: 73, x: xB, marks: [
  Plot.frame({fill: "black", stroke: "none"}),
  Plot.axisX(ageMinor, {anchor: "bottom", tickSize: 6, tickFormat: blank, strokeWidth: 1.5, label: null}),
  Plot.axisX(ageTicks, {anchor: "bottom", tickSize: 12, tickPadding: 9, tickFormat: fmt, fontSize: 19, strokeWidth: 1.5, label: null}),
  Plot.text(["Age (Ma)"], {text: d => d, frameAnchor: "bottom", lineAnchor: "middle", dy: 60, fontSize: 20})
]}, 1066);

// ---------------- connectors between panels ----------------
const sxa = aBase.scale("x"), sxb = bBase.scale("x");
mk({height: 84, marginTop: 0, marginBottom: 0, marginLeft: 0, marginRight: 0,
  x: {type: "identity", axis: null}, y: {type: "identity", axis: null}, marks: [
  Plot.link(bioTies, {x1: d => sxa.apply(d.depth), y1: 0, x2: d => sxb.apply(d.age), y2: 84, stroke: RED, strokeWidth: 1.3, strokeDasharray: DASH}),
  Plot.link(chemoTies, {x1: d => sxa.apply(d.depth), y1: 0, x2: d => sxb.apply(d.age), y2: 84, stroke: GRAY, strokeWidth: 1.3, strokeDasharray: DASH})
]}, 508);

// italic taxon names in datum labels
const partsByLabel = new Map([...datumsA, ...datumsB].map(d => [datumLabel(d), d]));
d3.select(fig).selectAll("text").each(function() {
  const d = partsByLabel.get(this.textContent);
  if (!d) return;
  const t = d3.select(this); t.text(null);
  t.append("tspan").text(d.rank + " ");
  t.append("tspan").attr("font-style", "italic").text(d.taxon);
  if (d.note) t.append("tspan").text(d.note);
});

// ---------------- titles, axis titles, legend ----------------
const ov = d3.select(fig).append("svg").attr("width", W).attr("height", 1169)
  .style("position", "absolute").style("left", "0px").style("top", "0px").style("pointer-events", "none")
  .attr("font-family", FONT);
function rich(x, y, parts, {size = 20, color = "black", weight = "normal", rotate = 0, anchor = "middle"} = {}) {
  const t = ov.append("text").attr("transform", `translate(${x},${y}) rotate(${rotate})`)
    .attr("text-anchor", anchor).attr("font-size", size).attr("fill", color).attr("font-weight", weight);
  for (const p of parts) {
    const [s, kind] = Array.isArray(p) ? p : [p, ""];
    const ts = t.append("tspan").text(s);
    if (kind === "sup") ts.attr("baseline-shift", "super").attr("font-size", size * 0.62);
    if (kind === "sub") ts.attr("baseline-shift", "sub").attr("font-size", size * 0.62);
  }
  return t;
}
rich(78, 39, ["a."], {size: 25, weight: "bold", anchor: "start"});
rich(78, 587, ["b."], {size: 25, weight: "bold", anchor: "start"});
rich(27, 289, ["ODP Site 959"], {size: 16, weight: "bold", rotate: -90});
rich(28, 800, ["Deep ocean benthic compilation (CENOGRID)"], {size: 16, weight: "bold", rotate: -90});
rich(59, 288, ["SST"], {size: 22, color: T_SST, rotate: -90});
rich(85, 285, ["(°C)"], {size: 21, color: T_SST, rotate: -90});
rich(59, 417, ["Bulk δ", ["13", "sup"], "C", ["TOC", "sub"]], {size: 21, color: T_TOC, rotate: -90});
rich(85, 412, ["(‰; VPDB)"], {size: 21, color: T_TOC, rotate: -90});
rich(1213, 358, ["Bulk δ", ["13", "sup"], "C", ["carb", "sub"]], {size: 21, color: T_CARB, rotate: 90});
rich(1189, 357, ["(‰; VPDB)"], {size: 21, color: T_CARB, rotate: 90});
rich(67, 750, ["Benthic δ", ["13", "sup"], "C"], {size: 21, color: T_B13, rotate: -90});
rich(93, 748, ["(‰; VPDB)"], {size: 21, color: T_B13, rotate: -90});
rich(1216, 843, ["Benthic δ", ["18", "sup"], "O"], {size: 21, color: T_B18, rotate: 90});
rich(1191, 843, ["(‰; VPDB)"], {size: 21, color: T_B18, rotate: 90});
rich(1157, 257, ["TEX", ["86", "sub"], ["H", "sup"], " SST calibration error"], {size: 14, color: T_SST, anchor: "start"});
rich(1157, 277, ["(5 °C; 2SE)"], {size: 14, color: T_SST, anchor: "start"});
// legend
ov.append("line").attr("x1", 870).attr("x2", 946).attr("y1", 1124).attr("y2", 1124).attr("stroke", RED).attr("stroke-width", 1.4).attr("stroke-dasharray", DASH);
ov.append("line").attr("x1", 870).attr("x2", 946).attr("y1", 1157).attr("y2", 1157).attr("stroke", GRAY).attr("stroke-width", 1.4).attr("stroke-dasharray", DASH);
rich(962, 1131, ["Biostratigraphy"], {size: 20, anchor: "start"});
rich(962, 1164, ["δ", ["13", "sup"], "C-stratigraphy"], {size: 20, anchor: "start"});
</script></body></html>
